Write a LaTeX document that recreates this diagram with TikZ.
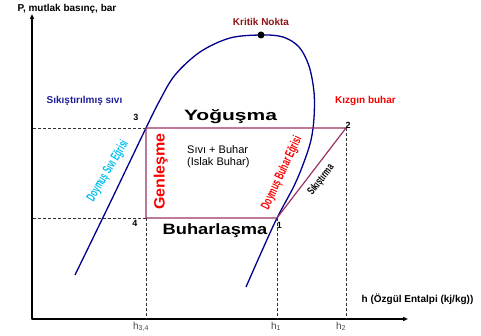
\documentclass[tikz,border=0pt]{standalone}
\usepackage{fontspec}
\setmainfont{Liberation Sans}
\usetikzlibrary{arrows.meta}

\definecolor{domeblue}{RGB}{0,0,140}
\definecolor{cyclepurple}{RGB}{153,51,102}
\definecolor{kritikred}{RGB}{140,20,20}
\definecolor{hotred}{RGB}{250,0,0}
\definecolor{liquidblue}{RGB}{30,30,150}
\definecolor{satcyan}{RGB}{0,190,240}
\definecolor{hgray}{RGB}{70,70,70}

\begin{document}
\begin{tikzpicture}[x=1pt, y=-1pt, line join=round,
    axisline/.style={line width=1.6pt, {Triangle[length=5pt,width=4pt]}-{Triangle[length=5pt,width=4pt]}},
    domeline/.style={domeblue, line width=1.3pt},
    cycleline/.style={cyclepurple, line width=1.2pt},
    guide/.style={dash pattern=on 3pt off 2pt, line width=0.6pt, black!80},
    lbl/.style={font=\bfseries\fontsize{10}{12}\selectfont, inner sep=0pt},
    biglbl/.style={font=\bfseries\fontsize{15}{18}\selectfont, inner sep=0pt, anchor=base},
    midlbl/.style={font=\fontsize{11}{13}\selectfont, inner sep=0pt, anchor=base west},
    curvelbl/.style={font=\bfseries\fontsize{13}{15}\selectfont, inner sep=0pt},
    ptlbl/.style={font=\bfseries\fontsize{9}{10}\selectfont, inner sep=0pt},
    hlbl/.style={font=\fontsize{10}{12}\selectfont, text=hgray, inner sep=0pt, anchor=north}]

  % -- eksenler --
  \coordinate (o) at (32,319);
  \coordinate (ytop) at (32,14);
  \coordinate (xend) at (408,319);
  \draw[axisline] (ytop) -- (o) -- (xend);

  % -- çevrim noktaları 1..4 ve kritik nokta --
  \coordinate (p1) at (277,218);
  \coordinate (p2) at (346,128);
  \coordinate (p3) at (146,128);
  \coordinate (p4) at (146,218);
  \coordinate (crit) at (261,35);

  % -- kesikli yardımcı çizgiler --
  \draw[guide] (p3) -- (p3 -| o);
  \draw[guide] (p4) -- (p4 -| o);
  \foreach \p in {p4, p1, p2}
    \draw[guide] (\p) -- (\p |- o);

  % -- doyma eğrisi (kubbe) --
  \draw[domeline] plot[smooth, tension=0.55] coordinates {
    (75,275) (110,203) (146,128) (160,100) (175,75) (200,52) (230,38)
    (261,35) (283,37) (299,47) (309,66) (314,92) (314,118)
    (311,140) (304,162) (294,186) (277,218) (261,253) (246,287)};
  \fill (crit) circle (3.5);

  % -- çevrim: 3-2-1-4 --
  \draw[cycleline] (p3) -- (p2) -- (p1) -- (p4) -- cycle;

  % -- düz etiketler --
  \node[lbl] (pbar) at (67,8.5) {P, mutlak basınç, bar};
  \node[lbl, text=kritikred] (kritik) at (261,22) {Kritik Nokta};
  \node[lbl, text=liquidblue] (sikisliq) at (84.5,101) {Sıkıştırılmış sıvı};
  \node[lbl, text=hotred] (kizgin) at (365.5,101) {Kızgın buhar};
  \node[lbl] (hax) at (417.5,299) {h (Özgül Entalpi (kj/kg))};

  \node[biglbl] (yog) at (230.5,120.5) {\scalebox{1.4}[1]{Yoğuşma}};
  \node[biglbl] (buh) at (215,235) {\scalebox{1.22}[1]{Buharlaşma}};
  \node[midlbl] (islak1) at (187,153.5) {Sıvı + Buhar};
  \node[midlbl] (islak2) at (187,166) {(Islak Buhar)};

  % -- döndürülmüş etiketler --
  \node[biglbl, text=hotred, rotate=90] (genl) at (164.5,171.5) {\scalebox{1.07}[1]{Genleşme}};
  \node[curvelbl, text=satcyan, rotate=59] (dsivi) at (108,171) {\scalebox{0.58}[1]{Doymuş Sıvı Eğrisi}};
  \node[curvelbl, text=hotred, rotate=65] (dbuhar) at (282,173) {\scalebox{0.6}[1]{Doymuş Buhar Eğrisi}};
  \node[curvelbl, font=\bfseries\fontsize{11}{13}\selectfont, rotate=52.5] (sikis) at (321,180) {\scalebox{0.68}[1]{Sıkıştırma}};

  % -- nokta numaraları --
  \foreach \x/\y/\lab in {279.3/225/1, 348/125/2, 136/117/3, 135/223/4}
    \node[ptlbl] (n\lab) at (\x,\y) {\lab};

  % -- entalpi değerleri --
  \node[hlbl] (h34) at (141,322) {h\textsubscript{3,4}};
  \node[hlbl] (h1) at (276,322) {h\textsubscript{1}};
  \node[hlbl] (h2) at (341,322) {h\textsubscript{2}};

  \path[use as bounding box] (0,0) rectangle (481,336);
\end{tikzpicture}
\end{document}
